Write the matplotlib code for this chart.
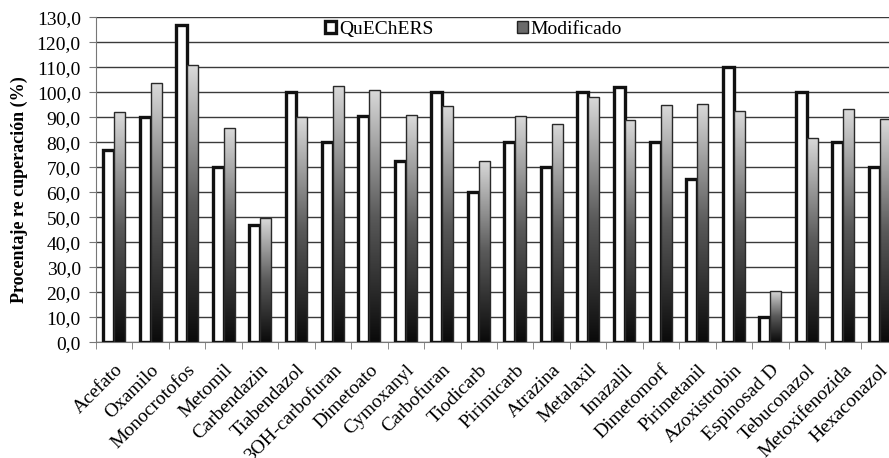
import matplotlib
matplotlib.use('Agg')
import matplotlib.pyplot as plt
import matplotlib.transforms as mtransforms
import numpy as np
from matplotlib.patches import Patch
from matplotlib.colors import LinearSegmentedColormap

# Datos
compuestos = ['Acefato', 'Oxamilo', 'Monocrotofos', 'Metomil', 'Carbendazin',
              'Tiabendazol', '3OH-carbofuran', 'Dimetoato', 'Cymoxanyl',
              'Carbofuran', 'Tiodicarb', 'Pirimicarb', 'Atrazina', 'Metalaxil',
              'Imazalil', 'Dimetomorf', 'Pirimetanil', 'Azoxistrobin',
              'Espinosad D', 'Tebuconazol', 'Metoxifenozida', 'Hexaconazol']
quechers = [77.0, 90.0, 127.0, 70.0, 47.0, 100.0, 80.2, 90.7, 72.4, 100.0, 60.0,
            80.0, 70.0, 100.0, 102.0, 80.0, 65.2, 110.0, 10.2, 100.0, 80.0, 70.0]
modificado = [92.0, 103.6, 110.8, 85.8, 49.6, 90.0, 102.5, 100.9, 90.8, 94.5, 72.5,
              90.5, 87.4, 98.3, 88.9, 94.9, 95.3, 92.5, 20.5, 81.8, 93.2, 89.2]

plt.rcParams['font.family'] = ['Liberation Serif', 'DejaVu Serif']

fig = plt.figure(figsize=(8.89, 4.58), dpi=100)
ax = fig.add_axes([0.108, 0.2526, 0.902, 0.7096])

x = np.arange(len(compuestos))
w = 0.3

# Barras QuEChERS: blancas con borde grueso
ax.bar(x - w / 2, quechers, w, facecolor='white', edgecolor='#111111',
       linewidth=2.4, zorder=3, label='QuEChERS')

# Barras Modificado: degradado vertical
cmap = LinearSegmentedColormap.from_list('grad', ['#0a0a0a', '#5a5a5a', '#dadada'])
grad = np.linspace(0, 1, 256).reshape(-1, 1)
barras = ax.bar(x + w / 2, modificado, w, facecolor='none', edgecolor='#2a2a2a',
                linewidth=1.0, zorder=4)
for b in barras:
    x0 = b.get_x()
    h = b.get_height()
    im = ax.imshow(grad, extent=[x0, x0 + b.get_width(), 0, h], origin='lower',
                   aspect='auto', cmap=cmap, zorder=3.5)
    im.set_clip_path(b)

ax.set_xlim(-0.5, len(compuestos) - 0.5)
ax.set_ylim(0, 130)
ax.set_yticks(np.arange(0, 131, 10))
ax.yaxis.set_major_formatter(plt.FuncFormatter(lambda v, p: ('%.1f' % v).replace('.', ',')))
ax.grid(axis='y', color='#3a3a3a', linewidth=1.0)
ax.set_axisbelow(True)

ax.set_xticks(x)
ax.set_xticklabels(compuestos, rotation=45, ha='right', rotation_mode='anchor')
ax.tick_params(axis='x', which='major', length=0, pad=0, labelsize=14)
# desplazar etiquetas hacia abajo
desp = mtransforms.ScaledTranslation(0, -0.19, fig.dpi_scale_trans)
for lab in ax.get_xticklabels():
    lab.set_transform(lab.get_transform() + desp)
ax.set_xticks(np.arange(-0.5, len(compuestos), 1), minor=True)
ax.tick_params(axis='x', which='minor', length=5, color='#777777', direction='out')
ax.tick_params(axis='y', labelsize=14, length=5, color='#777777', direction='out', pad=6)

for s in ['top', 'right']:
    ax.spines[s].set_visible(False)
ax.spines['left'].set_color('#777777')
ax.spines['bottom'].set_color('#777777')

ax.set_ylabel('Procentaje re cuperación (%)', fontsize=13, fontweight='bold')
ax.yaxis.set_label_coords(-0.085, 0.4686)

handles = [Patch(facecolor='white', edgecolor='#111111', linewidth=2.4),
           Patch(facecolor='#6a6a6a', edgecolor='#222222', linewidth=1.0)]
ax.legend(handles, ['QuEChERS', 'Modificado'], loc='center', bbox_to_anchor=(0.471, 0.962),
          ncol=2, frameon=False, fontsize=14, handlelength=0.55, handleheight=0.55,
          handletextpad=0.15, columnspacing=4.3, borderpad=0.1)

fig.savefig('out.png', dpi=100)
